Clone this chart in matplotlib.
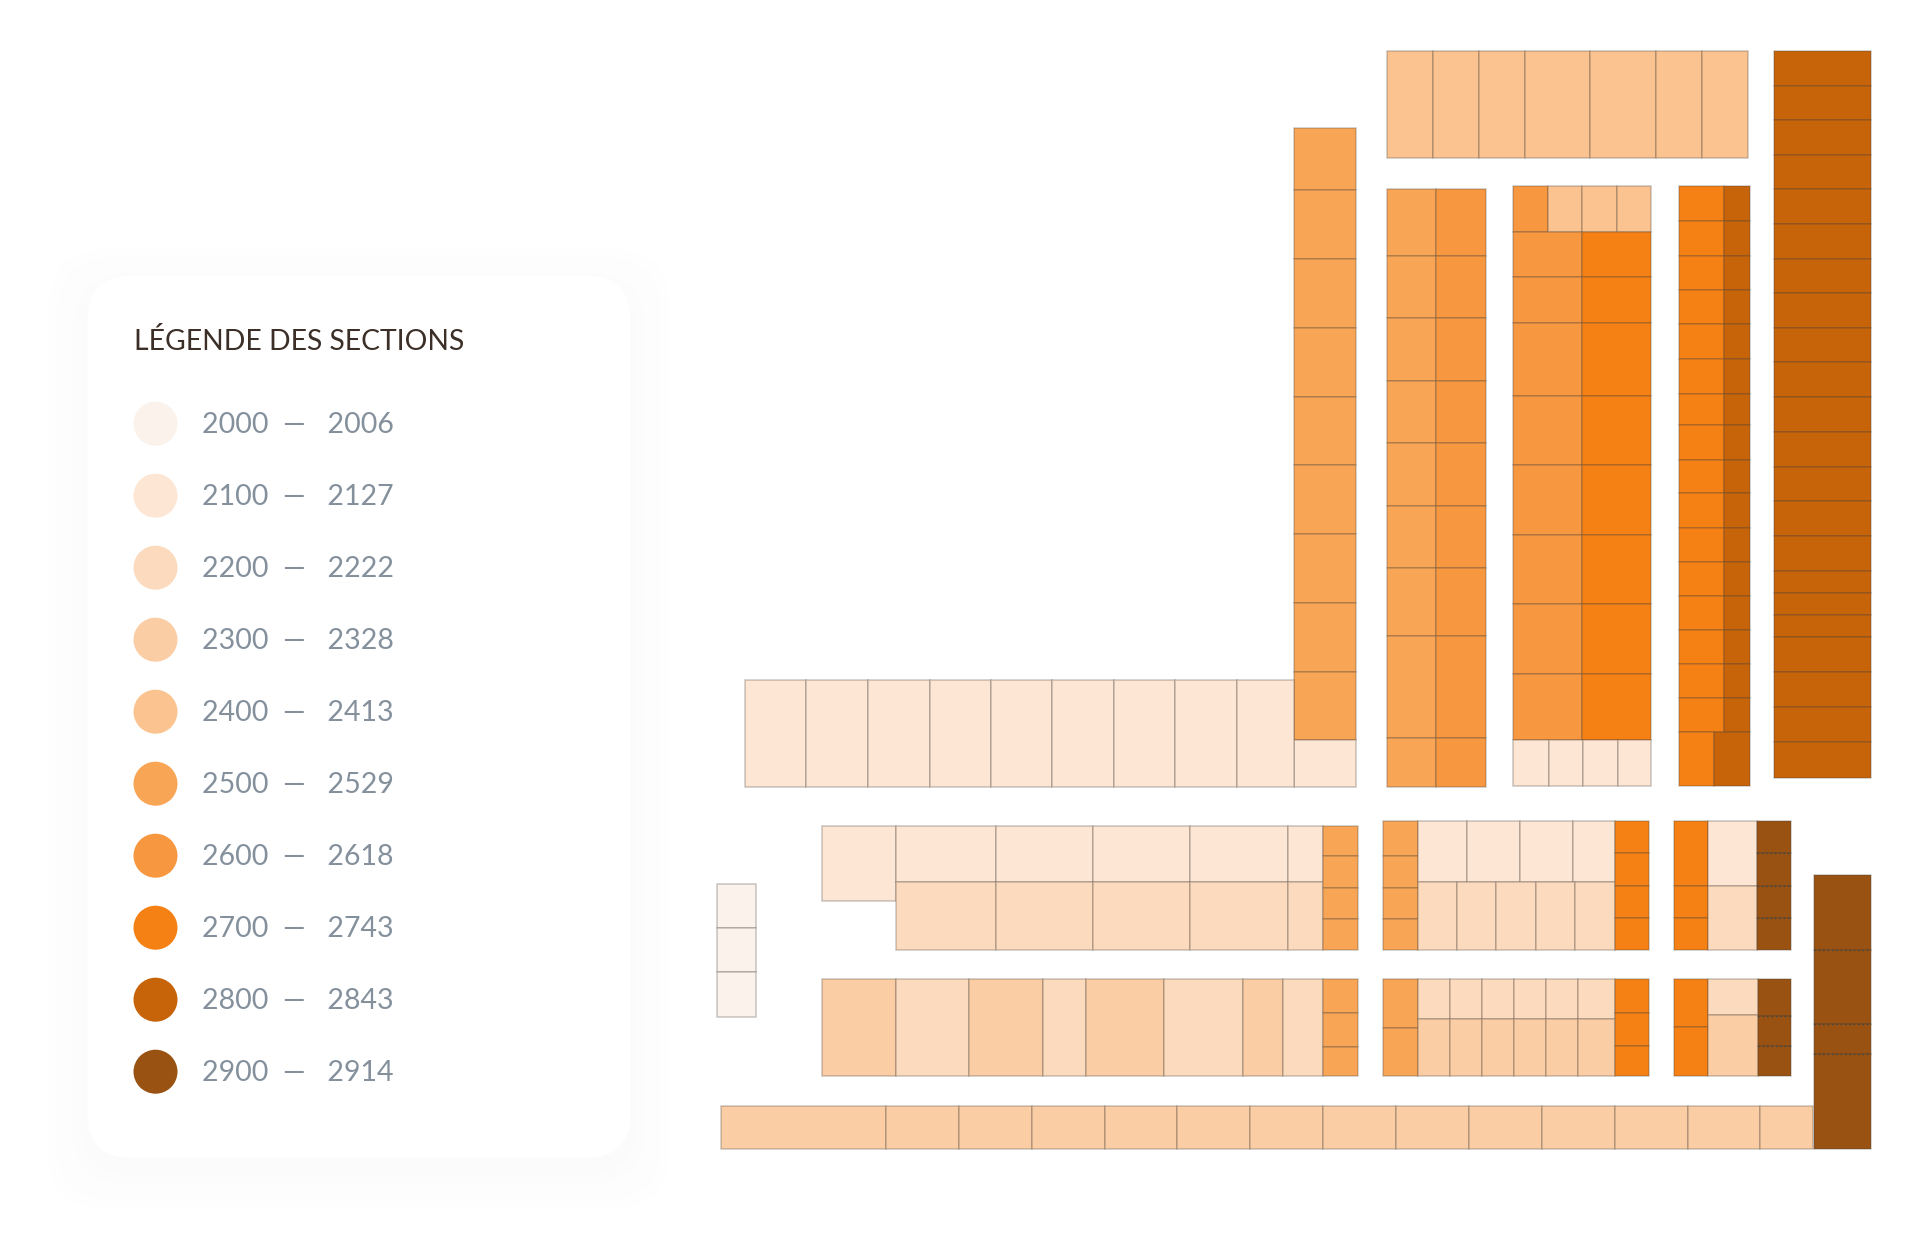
from matplotlib import pyplot as plt
from matplotlib.patches import Circle, FancyBboxPatch, Rectangle

plt.rcParams['font.family'] = ['Lato', 'DejaVu Sans']

# section number -> colour and last seat number shown in the legend
SECTIONS = {
    2000: ('#faf2eb', 2006),
    2100: ('#fde6d3', 2127),
    2200: ('#fcdabd', 2222),
    2300: ('#fbcda5', 2328),
    2400: ('#fbc38f', 2413),
    2500: ('#f8a556', 2529),
    2600: ('#f79841', 2618),
    2700: ('#f58013', 2743),
    2800: ('#c7640a', 2843),
    2900: ('#995212', 2914),
}

# blocks of the floor plan: (section, x edges, y edges), in plan units
BLOCKS = [
    # top and tall columns
    (2400, [1387, 1433, 1479, 1525, 1590, 1656, 1702, 1748], [51, 158]),
    (2500, [1294, 1356], [128, 190, 259, 328, 397, 465, 534, 603, 672, 740]),
    (2100, [1294, 1356], [740, 787]),
    (2500, [1387, 1436], [189, 256, 318, 381, 443, 506, 568, 636, 738, 787]),
    (2600, [1436, 1486], [189, 256, 318, 381, 443, 506, 568, 636, 738, 787]),
    (2600, [1513, 1548], [186, 232]),
    (2400, [1548, 1582, 1617, 1651], [186, 232]),
    (2600, [1513, 1582], [232, 277, 323, 396, 465, 535, 604, 674, 740]),
    (2700, [1582, 1651], [232, 277, 323, 396, 465, 535, 604, 674, 740]),
    (2100, [1513, 1549, 1583, 1618, 1651], [740, 786]),
    (2700, [1679, 1724], [186, 221, 256, 290, 324, 359, 394, 425, 460, 493,
                          528, 562, 596, 630, 664, 698, 732]),
    (2800, [1724, 1750], [186, 221, 256, 290, 324, 359, 394, 425, 460, 493,
                          528, 562, 596, 630, 664, 698, 732]),
    (2700, [1679, 1714], [732, 786]),
    (2800, [1714, 1750], [732, 786]),
    (2800, [1774, 1871], [51, 86, 120, 155, 189, 224, 259, 293, 328, 362, 397,
                          432, 467, 501, 536, 571, 593, 615, 637, 672, 707,
                          742, 778]),
    # wide row left of the tall columns
    (2100, [745, 806, 868, 930, 991, 1052, 1114, 1175, 1237, 1294], [680, 787]),
    # strip on the far left
    (2000, [717, 756], [884, 928, 972, 1017]),
    # middle left block
    (2100, [822, 896], [826, 901]),
    (2100, [896, 996, 1093, 1190, 1288, 1323], [826, 882]),
    (2200, [896, 996, 1093, 1190, 1288, 1323], [882, 950]),
    (2500, [1323, 1358], [826, 856, 888, 919, 950]),
    # lower left block, sections alternate
    (2300, [822, 896], [979, 1076]),
    (2200, [896, 969], [979, 1076]),
    (2300, [969, 1043], [979, 1076]),
    (2200, [1043, 1086], [979, 1076]),
    (2300, [1086, 1164], [979, 1076]),
    (2200, [1164, 1243], [979, 1076]),
    (2300, [1243, 1283], [979, 1076]),
    (2200, [1283, 1323], [979, 1076]),
    (2500, [1323, 1358], [979, 1013, 1047, 1076]),
    # middle right block
    (2500, [1383, 1418], [821, 856, 888, 919, 950]),
    (2100, [1418, 1467, 1520, 1573, 1615], [821, 882]),
    (2200, [1418, 1457, 1496, 1536, 1575, 1615], [882, 950]),
    (2700, [1615, 1649], [821, 853, 886, 918, 950]),
    (2700, [1674, 1708], [821, 886, 918, 950]),
    (2100, [1708, 1757], [821, 886]),
    (2200, [1708, 1757], [886, 950]),
    (2900, [1757, 1791], [821, 853, 886, 918, 950]),
    # lower right block
    (2500, [1383, 1418], [979, 1028, 1076]),
    (2200, [1418, 1450, 1482, 1514, 1546, 1578, 1615], [979, 1019]),
    (2300, [1418, 1450, 1482, 1514, 1546, 1578, 1615], [1019, 1076]),
    (2700, [1615, 1649], [979, 1013, 1046, 1076]),
    (2700, [1674, 1708], [979, 1027, 1076]),
    (2200, [1708, 1758], [979, 1015]),
    (2300, [1708, 1758], [1015, 1076]),
    (2900, [1758, 1791], [979, 1016, 1046, 1076]),
    # bottom row and corner
    (2300, [721, 886, 959, 1032, 1105, 1177, 1250, 1323, 1396, 1469, 1542,
            1615, 1688, 1760, 1813], [1106, 1149]),
    (2900, [1814, 1871], [875, 950, 1024, 1054, 1149]),
]

EDGE = (0.30, 0.27, 0.24, 0.30)


def draw_block(ax, section, xs, ys):
    colour = SECTIONS[section][0]
    for x0, x1 in zip(xs[:-1], xs[1:]):
        for y0, y1 in zip(ys[:-1], ys[1:]):
            ax.add_patch(Rectangle((x0, y0), x1 - x0, y1 - y0,
                                   facecolor=colour, edgecolor=EDGE,
                                   linewidth=1.1))
    # the darkest section has dotted seams
    if section == 2900:
        ax.hlines(ys[1:-1], xs[0], xs[-1], colors='#34454c', linewidth=0.9,
                  linestyles=(0, (1, 2.5)), zorder=3)


def draw_legend(ax):
    shadow = [(38, '#fefefe'), (30, '#fdfdfd'), (22, '#fdfdfd'),
              (14, '#fcfcfc'), (6, '#fbfbfb')]
    for grow, shade in shadow:
        ax.add_patch(FancyBboxPatch((88 - grow, 276 - grow + 12),
                                    543 + 2 * grow, 882 + 2 * grow,
                                    boxstyle='round,pad=0,rounding_size=56',
                                    facecolor=shade, edgecolor='none'))
    ax.add_patch(FancyBboxPatch((88, 276), 543, 882,
                                boxstyle='round,pad=0,rounding_size=44',
                                facecolor='white', edgecolor='none'))

    ax.text(134.5, 350, 'LÉGENDE DES SECTIONS', fontsize=20.3, color='#3b2f27',
            ha='left', va='baseline')
    for i, (section, (colour, last)) in enumerate(SECTIONS.items()):
        y = 424 + 72 * i
        ax.add_patch(Circle((156, y), 22, facecolor=colour, edgecolor='none'))
        ax.text(202.5, y + 9, f'{section}  —  \u2009\u2009{last}', fontsize=20.5,
                color='#84909c', ha='left', va='baseline')


def main():
    fig = plt.figure(figsize=(19.2, 12.54), dpi=100)
    ax = fig.add_axes([0, 0, 1, 1])
    ax.set_xlim(0.5, 1920.5)
    ax.set_ylim(1254.3, 0.3)
    ax.axis('off')

    draw_legend(ax)
    for section, xs, ys in BLOCKS:
        draw_block(ax, section, xs, ys)

    fig.savefig('out.png', dpi=100)


if __name__ == '__main__':
    main()
